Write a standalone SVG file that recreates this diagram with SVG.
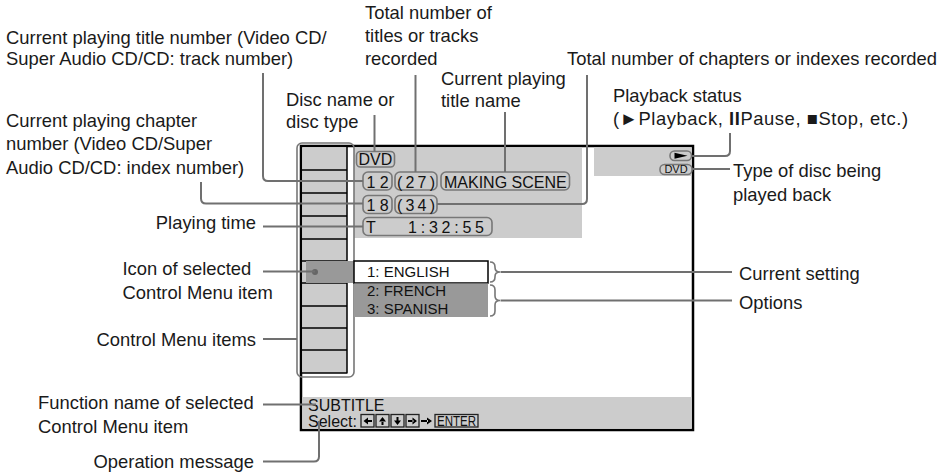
<svg xmlns="http://www.w3.org/2000/svg" width="952" height="472" viewBox="0 0 952 472">
<style>
.t{font-family:"Liberation Sans",Arial,Helvetica,sans-serif;font-size:18.4px;fill:#1a1a1a}
.s{font-family:"Liberation Sans",Arial,Helvetica,sans-serif;font-size:16px;fill:#111}
.m{font-family:"Liberation Sans",Arial,Helvetica,sans-serif;font-size:15px;fill:#111}
.sm{font-family:"Liberation Sans",Arial,Helvetica,sans-serif;font-size:11px;fill:#111}
.en{font-family:"Liberation Sans",Arial,Helvetica,sans-serif;font-size:14.5px;fill:#111}
.c{fill:none;stroke:#707070;stroke-width:2}
.b{fill:none;stroke:#777;stroke-width:1.6}
.k{fill:none;stroke:#222;stroke-width:1.3}
.lc{fill:#ccc}
.dk{fill:#999}
</style>
<rect width="952" height="472" fill="#fff"/>

<g id="screen">
  <rect x="301" y="146" width="392" height="284" fill="#fff" stroke="#000" stroke-width="2.5"/>
  <rect class="lc" x="354" y="147.3" width="228" height="90.7"/>
  <rect class="lc" x="594" y="147.3" width="97.7" height="28.7"/>
  <rect class="lc" x="302.3" y="397" width="389.4" height="31.7"/>
</g>

<g id="control-menu-items">
  <rect class="lc" x="302.3" y="147.3" width="44.7" height="225.7"/>
  <path d="M347,146V373.5M302,170H347M302,193H347M302,216H347M302,239H347M302,261H347M302,283H347M302,306H347M302,328H347M302,350H347M302,373H347" stroke="#000" stroke-width="1.5" fill="none"/>
  <rect class="b" x="297" y="143" width="57" height="234" rx="5"/>
</g>

<g id="selected-icon">
  <rect class="dk" x="306" y="261" width="48" height="22"/>
  <circle cx="315" cy="272" r="3" fill="#666"/>
</g>

<g id="disc-name">
  <rect class="b" x="356.5" y="151.5" width="38" height="15.5" rx="4"/>
  <text class="s" x="358.5" y="164.5">DVD</text>
</g>
<g id="title-number">
  <rect class="b" x="363" y="172" width="29" height="18" rx="5"/>
  <text class="s" x="377.5" y="188" text-anchor="middle">1 2</text>
</g>
<g id="total-titles">
  <rect class="b" x="395" y="172" width="42" height="18" rx="5"/>
  <text class="s" x="397" y="188" textLength="38" lengthAdjust="spacing">( 2 7 )</text>
</g>
<g id="title-name">
  <rect class="b" x="441" y="172" width="128.5" height="18" rx="5"/>
  <text class="s" x="444" y="188">MAKING SCENE</text>
</g>
<g id="chapter-number">
  <rect class="b" x="363" y="195.5" width="29" height="18" rx="5"/>
  <text class="s" x="377.5" y="211" text-anchor="middle">1 8</text>
</g>
<g id="total-chapters">
  <rect class="b" x="395" y="195.5" width="42" height="18" rx="5"/>
  <text class="s" x="397" y="211" textLength="38" lengthAdjust="spacing">( 3 4 )</text>
</g>
<g id="playing-time">
  <rect class="b" x="363" y="217.5" width="129" height="18" rx="5"/>
  <text class="s" x="366" y="233">T<tspan x="408" textLength="76" lengthAdjust="spacing">1:32:55</tspan></text>
</g>

<g id="current-setting">
  <rect x="354" y="261" width="134" height="22" fill="#fff" stroke="#000" stroke-width="1.5"/>
  <text class="m" x="367" y="277">1: ENGLISH</text>
</g>
<g id="options">
  <rect class="dk" x="354" y="283.5" width="134" height="33.5"/>
  <text class="m" x="367" y="295.5">2: FRENCH</text>
  <text class="m" x="367" y="314">3: SPANISH</text>
</g>

<g id="status">
  <rect class="b" x="670" y="151" width="21.5" height="9.5" rx="4.5"/>
  <path d="M674.5,152.8L687.5,155.75L674.5,158.7Z" fill="#000"/>
  <rect class="b" x="660" y="164.5" width="32" height="10" rx="4.5"/>
  <text class="sm" x="676" y="173.3" text-anchor="middle">DVD</text>
</g>

<g id="function-name">
  <text class="s" x="308" y="410.5">SUBTITLE</text>
</g>
<g id="operation-message">
  <text class="s" x="308" y="426.5">Select:</text>
  <rect class="k" x="361" y="414.5" width="13" height="12.5"/>
  <path d="M363.5,421L368,417.5V424.5ZM367,420H372V422H367Z" fill="#000"/>
  <rect class="k" x="376" y="414.5" width="13" height="12.5"/>
  <path d="M382.5,417L379,421.5H386ZM381.5,421H383.5V425H381.5Z" fill="#000"/>
  <rect class="k" x="391" y="414.5" width="13" height="12.5"/>
  <path d="M397.5,425L394,420.5H401ZM396.5,417H398.5V421H396.5Z" fill="#000"/>
  <rect class="k" x="406" y="414.5" width="13" height="12.5"/>
  <path d="M417,421L412.5,417.5V424.5ZM408,420H413.5V422H408Z" fill="#000"/>
  <path d="M432,421L427,417.5V424.5ZM421,420H428V422H421Z" fill="#000"/>
  <rect class="k" x="435" y="414.5" width="43" height="12.5"/>
  <text class="en" x="437" y="426" textLength="39" lengthAdjust="spacingAndGlyphs">ENTER</text>
</g>

<g id="braces" fill="none" stroke="#777" stroke-width="1.6">
  <path d="M490,262c4,0 5,2 5,5v0.5c0,3 2,4.5 5,4.5c-3,0 -5,1.5 -5,4.5v0.5c0,3 -1,5 -5,5"/>
  <path d="M490,285c4,0 5,2 5,5v6c0,3 2,4.5 5,4.5c-3,0 -5,1.5 -5,4.5v6c0,3 -1,5 -5,5"/>
</g>

<g id="connectors" class="c">
  <path d="M263,73V176Q263,181 268,181H363"/>
  <path d="M201,182V198.5Q201,203.5 206,203.5H363"/>
  <path d="M263,226.5H363"/>
  <path d="M263,271.5H315"/>
  <path d="M263,339H297"/>
  <path d="M263,404.5H316"/>
  <path d="M263,461.5H314Q319,461.5 319,456.5V421"/>
  <path d="M374.5,115V151.5"/>
  <path d="M415.5,75V172"/>
  <path d="M505,112V172"/>
  <path d="M587,75V199Q587,204 582,204H437"/>
  <path d="M730,133V151Q730,156 725,156H691.5"/>
  <path d="M692,169H730"/>
  <path d="M500.5,272H732"/>
  <path d="M500.5,300.5H732"/>
</g>

<g id="label-title-number">
  <text class="t" x="6" y="43.5">Current playing title number (Video CD/</text>
  <text class="t" x="6" y="64.5">Super Audio CD/CD: track number)</text>
</g>
<g id="label-chapter-number">
  <text class="t" x="6" y="126.5">Current playing chapter</text>
  <text class="t" x="6" y="150">number (Video CD/Super</text>
  <text class="t" x="6" y="173.5">Audio CD/CD: index number)</text>
</g>
<g id="label-disc-name">
  <text class="t" x="286" y="106">Disc name or</text>
  <text class="t" x="286" y="128">disc type</text>
</g>
<g id="label-total-titles">
  <text class="t" x="365" y="18.5">Total number of</text>
  <text class="t" x="365" y="42">titles or tracks</text>
  <text class="t" x="365" y="65">recorded</text>
</g>
<g id="label-title-name">
  <text class="t" x="441" y="85">Current playing</text>
  <text class="t" x="441" y="106.5">title name</text>
</g>
<g id="label-total-chapters">
  <text class="t" x="567" y="65">Total number of chapters or indexes recorded</text>
</g>
<g id="label-playback-status">
  <text class="t" x="613" y="101.5">Playback status</text>
  <text class="t" x="613" y="125" textLength="295" lengthAdjust="spacing">(►Playback, <tspan font-weight="bold">II</tspan>Pause, ■Stop, etc.)</text>
</g>
<g id="label-disc-type">
  <text class="t" x="733" y="176.5">Type of disc being</text>
  <text class="t" x="733" y="200.5">played back</text>
</g>
<g id="label-playing-time">
  <text class="t" x="256" y="229" text-anchor="end">Playing time</text>
</g>
<g id="label-selected-icon">
  <text class="t" x="122.5" y="275">Icon of selected</text>
  <text class="t" x="122.5" y="299">Control Menu item</text>
</g>
<g id="label-menu-items">
  <text class="t" x="256" y="346" text-anchor="end">Control Menu items</text>
</g>
<g id="label-function-name">
  <text class="t" x="38" y="408.5">Function name of selected</text>
  <text class="t" x="38" y="432.5">Control Menu item</text>
</g>
<g id="label-operation-message">
  <text class="t" x="254" y="468" text-anchor="end">Operation message</text>
</g>
<g id="label-current-setting">
  <text class="t" x="739" y="280">Current setting</text>
</g>
<g id="label-options">
  <text class="t" x="739" y="308.5">Options</text>
</g>
</svg>
